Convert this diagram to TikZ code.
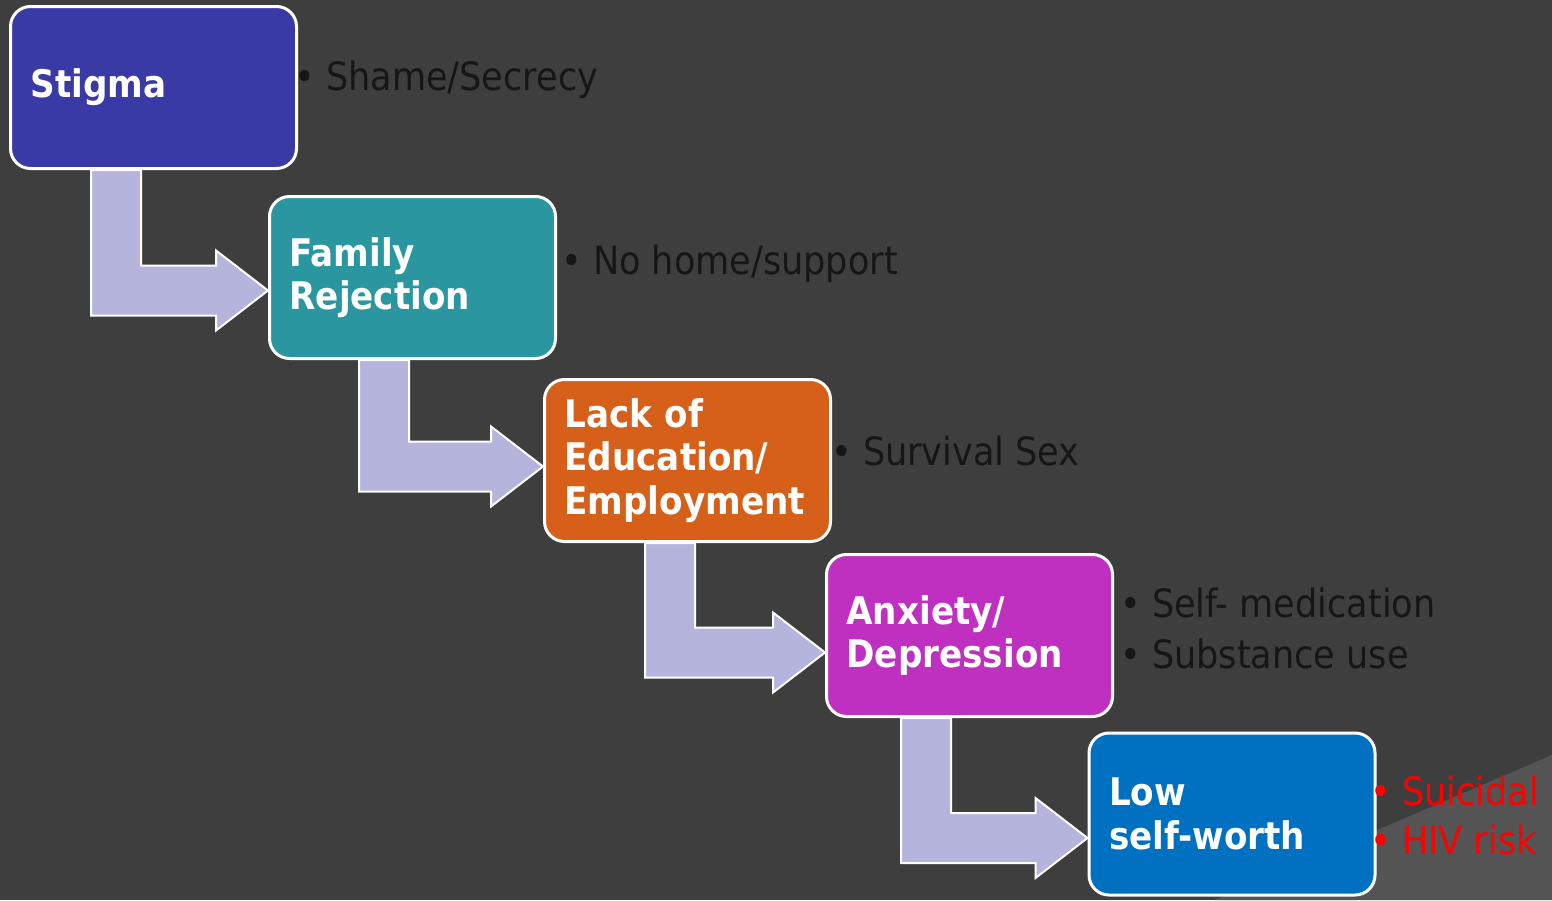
\documentclass[tikz,border=0pt]{standalone}
\usepackage{fontspec}
\setmainfont{DejaVu Sans Condensed}
\usetikzlibrary{calc}

\definecolor{slidebg}{RGB}{62,62,62}
\definecolor{slidelight}{RGB}{84,84,84}
\definecolor{arrowfill}{RGB}{180,180,220}
\definecolor{bullettext}{RGB}{22,22,22}
\definecolor{stigmafill}{RGB}{58,58,166}
\definecolor{familyfill}{RGB}{42,150,160}
\definecolor{schoolfill}{RGB}{214,96,26}
\definecolor{anxietyfill}{RGB}{192,48,192}
\definecolor{worthfill}{RGB}{0,112,192}
\definecolor{riskred}{RGB}{255,0,0}

\tikzset{
    cause/.style = {draw=white, line width=3pt, rounded corners=20pt,
        minimum width=286pt, minimum height=162pt, text width=246pt,
        inner xsep=20pt, align=left, text=white,
        font=\fontsize{38}{43.5}\selectfont\bfseries},
    effect/.style = {anchor=west, inner sep=0pt, align=left,
        text=bullettext, font=\fontsize{39}{51}\selectfont},
    bendarrow/.style = {fill=arrowfill, draw=white, line width=2pt,
        line join=miter}
}

% bent block arrow: from box, to box, shaft offset, tip offset
\newcommand{\bendarrow}[4]{%
    \path (#1.south west) ++(#3,0) coordinate (top1) ++(50,0) coordinate (top2);
    \path (#2.west) ++(0,#4) coordinate (tip)
        ++(-52,-25) coordinate (neck1) ++(0,-15) coordinate (barb1)
        (tip) ++(-52,25) coordinate (neck2) ++(0,15) coordinate (barb2);
    \draw [bendarrow] (top1) -- (top2) -- (top2 |- neck1) -- (neck1) -- (barb1)
        -- (tip) -- (barb2) -- (neck2) -- (top1 |- neck2) -- cycle;}

\begin{document}
\begin{tikzpicture}[x=1pt, y=-1pt]
    % \draw [help lines, step=100] (0,0) grid (1552,900);
    \useasboundingbox (0,0) rectangle (1552,900);
    \fill [slidebg] (0,0) rectangle (1552,900);
    \fill [slidelight] (1214,900) -- (1552,755) -- (1552,900) -- cycle;

    \node (stigma) [cause, fill=stigmafill] at (153.5,87.5) {Stigma};
    \node (family) [cause, fill=familyfill] at (412.5,277.5) {Family\\Rejection};
    \node (school) [cause, fill=schoolfill] at (687.5,460.5) {Lack of\\Education/\\Employment};
    \node (anxiety) [cause, fill=anxietyfill] at (969.5,635.5) {Anxiety/\\Depression};
    \node (worth) [cause, fill=worthfill] at (1232,814) {Low\\self-worth};

    \bendarrow{stigma}{family}{82}{13}
    \bendarrow{family}{school}{91}{6}
    \bendarrow{school}{anxiety}{102}{17}
    \bendarrow{anxiety}{worth}{76}{24}

    \node (shame) [effect] at (294,80) {• Shame/Secrecy};
    \node (nohome) [effect] at (561,264) {• No home/support};
    \node (survival) [effect] at (831,451) {• Survival Sex};
    \node (selfmed) [effect] at (1120,628) {• Self- medication\\• Substance use};
    \node (risks) [effect, text=riskred, font=\fontsize{39}{49}\selectfont]
        at (1370,815) {• Suicidal\\• HIV risk};
\end{tikzpicture}
\end{document}
